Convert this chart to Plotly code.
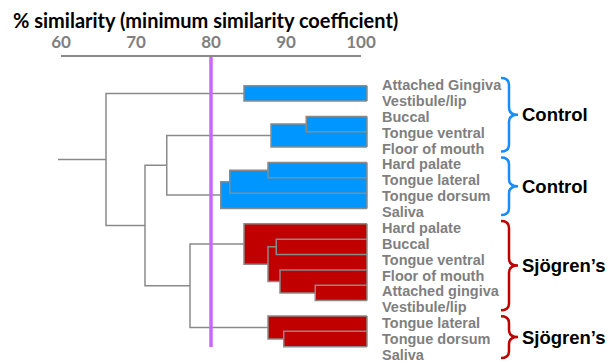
import plotly.graph_objects as go

# ---------------- data ----------------
leaf_labels = ["Attached Gingiva", "Vestibule/lip", "Buccal", "Tongue ventral", "Floor of mouth",
               "Hard palate", "Tongue lateral", "Tongue dorsum", "Saliva",
               "Hard palate", "Buccal", "Tongue ventral", "Floor of mouth", "Attached gingiva",
               "Vestibule/lip", "Tongue lateral", "Tongue dorsum", "Saliva"]
leaf_group = ["Control"] * 9 + ["Sjögren’s"] * 9

# linkage (leaves are nodes 0-17, merges are nodes 18+)
merge_a = [0, 2, 19, 5, 21, 22, 10, 13, 12, 24, 9, 16, 15, 20, 28, 31, 18]
merge_b = [1, 3, 4, 6, 7, 8, 11, 14, 25, 26, 27, 17, 29, 23, 30, 32, 33]
merge_sim = [83.6, 91.9, 87.2, 86.8, 81.7, 80.5, 87.9, 93.1, 88.4, 86.8, 83.6, 88.9, 86.8,
             73.3, 76.4, 70.4, 65.2]

cutoff = 80
tick_vals = [60, 70, 80, 90, 100]
bracket_groups = [("Control", 0, 4), ("Control", 5, 8), ("Sjögren’s", 9, 14), ("Sjögren’s", 15, 17)]

# ---------------- styling ----------------
group_fill = {"Control": "#0096ff", "Sjögren’s": "#c00000"}
group_brace = {"Control": "#1a8cff", "Sjögren’s": "#c00000"}
line_col = "#8a8a8a"
root_tail = 58.8

W, H = 609, 363
L, R, T, B = 50, 375, 57, 360  # plot area in pixels

# ---------------- dendrogram geometry ----------------
n = len(leaf_labels)
ypos = {i: float(i) for i in range(n)}
hval = {i: 100.0 for i in range(n)}
leaves_of = {i: [i] for i in range(n)}
parent_h = {}
for k, (a, b, s) in enumerate(zip(merge_a, merge_b, merge_sim)):
    node = n + k
    ypos[node] = (ypos[a] + ypos[b]) / 2
    hval[node] = s
    leaves_of[node] = leaves_of[a] + leaves_of[b]
    parent_h[a] = s
    parent_h[b] = s

lx, ly = [], []
fills = {g: ([], []) for g in group_fill}
for k, (a, b, s) in enumerate(zip(merge_a, merge_b, merge_sim)):
    node = n + k
    lx += [hval[a], s, s, hval[b], None]
    ly += [ypos[a], ypos[a], ypos[b], ypos[b], None]
    if s > cutoff:
        g = leaf_group[leaves_of[node][0]]
        fx, fy = fills[g]
        fx += [s, 100, 100, s, s, None]
        fy += [ypos[a], ypos[a], ypos[b], ypos[b], ypos[a], None]
        if parent_h.get(node, 0) <= cutoff:
            lv = leaves_of[node]
            lx += [100, 100, None]
            ly += [min(lv), max(lv), None]
root = n + len(merge_sim) - 1
lx += [hval[root], root_tail, None]
ly += [ypos[root], ypos[root], None]

fig = go.Figure()
for g, (fx, fy) in fills.items():
    fig.add_trace(go.Scatter(x=fx, y=fy, mode="lines", fill="toself", fillcolor=group_fill[g],
                             line=dict(width=0, color=group_fill[g]), xaxis="x2", yaxis="y",
                             hoverinfo="skip", showlegend=False))
fig.add_trace(go.Scatter(x=lx, y=ly, mode="lines", line=dict(color=line_col, width=1.5),
                         xaxis="x2", yaxis="y", hoverinfo="skip", showlegend=False))

pw = R - L
ph = B - T
px_per_unit = 7.5
x2_lo = 100 - (367 - L) / px_per_unit
x2_hi = x2_lo + pw / px_per_unit

y_lo = -1.87
y_hi = 17.87
y2_lo = -1.763
y2_hi = 17.317

def lab_px(i):
    return T + (i - y2_lo) / (y2_hi - y2_lo) * ph

def xp(px):
    return (px - L) / pw

def yp(py):
    return (B - py) / ph

annotations = []
for i, lab in enumerate(leaf_labels):
    annotations.append(dict(x=xp(380), y=i, xref="paper", yref="y2", text=lab, showarrow=False,
                            xanchor="left", yanchor="middle",
                            font=dict(family="Liberation Sans, Arial", size=14.5, color="#7f7f7f",
                                      weight="bold")))

shapes = []
for name, i0, i1 in bracket_groups:
    y0 = lab_px(i0) - 7
    y1 = lab_px(i1) + 3
    ym = (y0 + y1) / 2
    xl, xm, xt = 501, 509, 518
    r = 7
    pts = [
        f"M {xp(xl)},{yp(y0)}",
        f"Q {xp(xm)},{yp(y0)} {xp(xm)},{yp(y0 + r)}",
        f"L {xp(xm)},{yp(ym - r)}",
        f"Q {xp(xm)},{yp(ym)} {xp(xt)},{yp(ym)}",
        f"Q {xp(xm)},{yp(ym)} {xp(xm)},{yp(ym + r)}",
        f"L {xp(xm)},{yp(y1 - r)}",
        f"Q {xp(xm)},{yp(y1)} {xp(xl)},{yp(y1)}",
    ]
    shapes.append(dict(type="path", xref="paper", yref="paper", path=" ".join(pts),
                       line=dict(color=group_brace[name], width=2.5)))
    annotations.append(dict(x=xp(520), y=yp(ym), xref="paper", yref="paper", text=name,
                            showarrow=False, xanchor="left", yanchor="middle",
                            font=dict(family="Liberation Sans, Arial", size=18.5, color="black",
                                      weight="bold")))

shapes.append(dict(type="line", xref="x", yref="y", x0=cutoff, x1=cutoff, y0=y_lo, y1=17.03,
                   line=dict(color="#cc66ff", width=3.5), layer="above"))

annotations.append(dict(x=xp(11), y=yp(20), xref="paper", yref="paper",
                        text="% similarity (minimum similarity coefficient)", showarrow=False,
                        xanchor="left", yanchor="middle",
                        font=dict(family="Lato", size=20, color="black", weight="bold")))

fig.update_layout(
    width=W, height=H,
    margin=dict(l=L, r=W - R, t=T, b=H - B, pad=0),
    paper_bgcolor="white", plot_bgcolor="white",
    xaxis=dict(domain=[xp(61), xp(361)], range=[60, 100], side="top", anchor="y",
               ticks="inside", ticklen=6, tickwidth=1.5, tickcolor=line_col,
               showline=True, linecolor=line_col, linewidth=1.5, showgrid=False, zeroline=False,
               tickvals=tick_vals, ticktext=[str(v) for v in tick_vals],
               tickfont=dict(family="Lato", size=17, color="#7f7f7f", weight="bold")),
    xaxis2=dict(domain=[0, 1], range=[x2_lo, x2_hi], anchor="y", visible=False),
    yaxis=dict(domain=[0, 1], range=[y_hi, y_lo], visible=False, anchor="x"),
    yaxis2=dict(range=[y2_hi, y2_lo], overlaying="y", visible=False, anchor="x"),
    shapes=shapes,
    annotations=annotations,
)

fig.write_html("out.html", config={"displayModeBar": False},
               post_script="document.body.style.margin='0px';")
